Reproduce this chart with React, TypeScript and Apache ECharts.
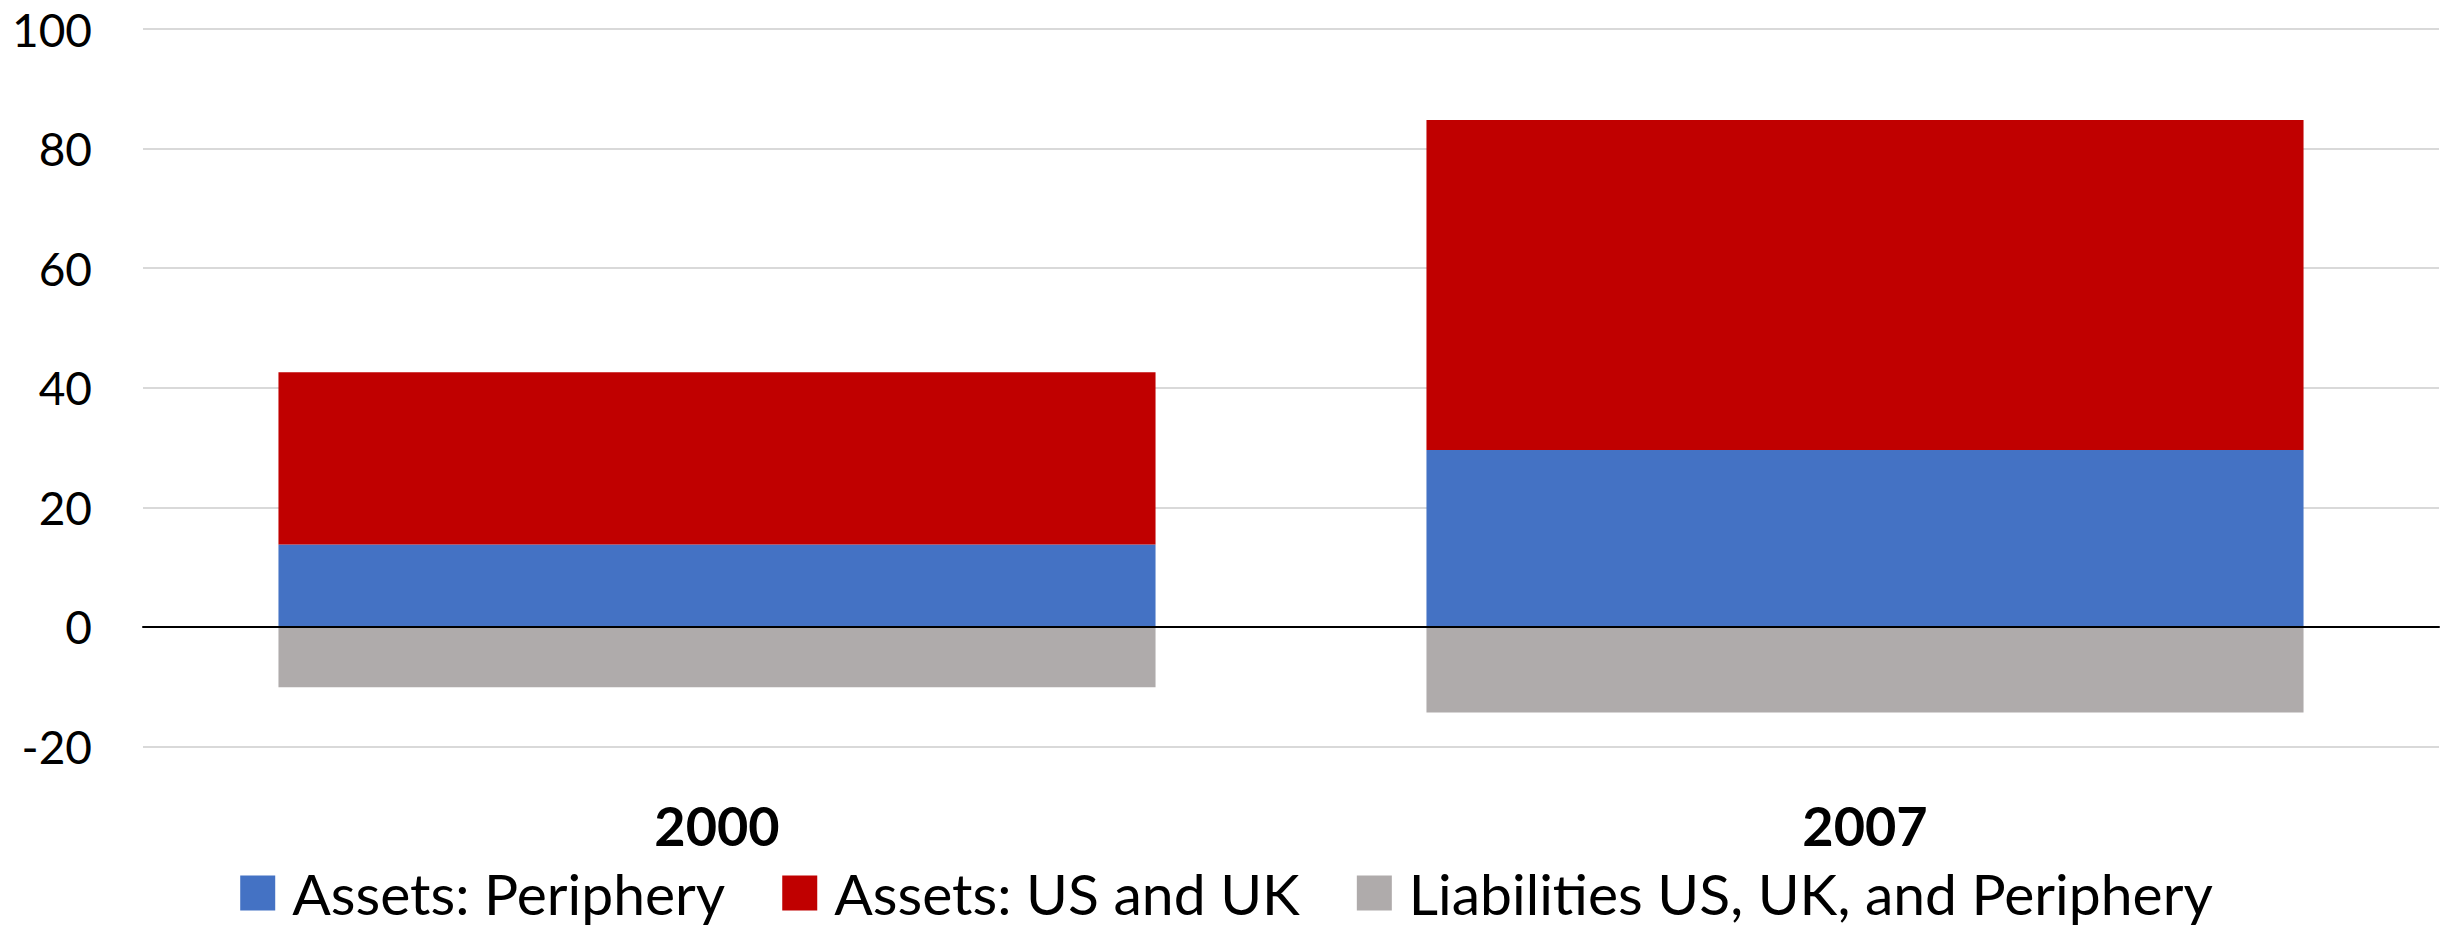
import React, { useEffect, useRef } from "react";
import * as echarts from "echarts";

const categories = ["2000", "2007"];
const seriesNames = ["Assets: Periphery", "Assets: US and UK", "Liabilities US, UK, and Periphery"];
const assetsPeriphery = [13.8, 29.6];
const assetsUSUK = [28.8, 55.2];
const liabilities = [-10.1, -14.3];
const colors = ["#4472C4", "#C00000", "#AFABAB"];

const FONT = "Lato, 'Open Sans', sans-serif";

export default function App() {
  const ref = useRef<HTMLDivElement>(null);
  useEffect(() => {
    const chart = echarts.init(ref.current!, null, { renderer: "svg" });
    const values = [assetsPeriphery, assetsUSUK, liabilities];
    chart.setOption({
      animation: false,
      backgroundColor: "#ffffff",
      grid: { left: 143, right: 14, top: 29, bottom: 183.5, containLabel: false },
      legend: {
        data: seriesNames,
        left: "center",
        top: 862,
        padding: 0,
        itemWidth: 35,
        itemHeight: 35,
        itemGap: 57,
        icon: "rect",
        textStyle: { fontFamily: FONT, fontSize: 57, color: "#000", lineHeight: 62, padding: [0, 0, 0, 12] },
      },
      xAxis: [
        {
          type: "category",
          data: categories,
          position: "bottom",
          axisLine: { show: false, onZero: false },
          axisTick: { show: false },
          axisLabel: { fontFamily: FONT, fontSize: 54, fontWeight: "bold", color: "#000", margin: 52 },
          splitLine: { show: false },
        },
        {
          type: "category",
          data: categories,
          position: "bottom",
          z: 10,
          axisLine: { show: true, onZero: true, lineStyle: { color: "#000", width: 2 } },
          axisTick: { show: false },
          axisLabel: { show: false },
          splitLine: { show: false },
        },
      ],
      yAxis: {
        type: "value",
        min: -20,
        max: 100,
        interval: 20,
        axisLine: { show: false },
        axisTick: { show: false },
        axisLabel: { fontFamily: FONT, fontSize: 46, color: "#000", margin: 51 },
        splitLine: { show: true, lineStyle: { color: "#d9d9d9", width: 2 } },
      },
      series: seriesNames.map((name, i) => ({
        name,
        type: "bar",
        stack: "total",
        barWidth: "76.4%",
        xAxisIndex: 0,
        itemStyle: { color: colors[i] },
        data: values[i],
      })),
    });
    return () => chart.dispose();
  }, []);
  return (
    <div
      ref={ref}
      style={{ position: "fixed", left: 0, top: 0, width: 2453, height: 930 }}
    />
  );
}
